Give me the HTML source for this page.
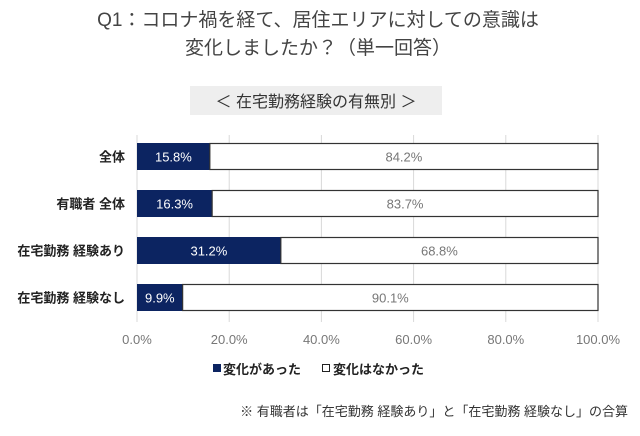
<!DOCTYPE html>
<html><head><meta charset="utf-8"><style>
body{margin:0;width:640px;height:431px;background:#fff;font-family:"Liberation Sans","Noto Sans CJK JP",sans-serif;overflow:hidden}
svg text{font-family:"Liberation Sans","Noto Sans CJK JP",sans-serif}
</style></head><body>
<svg width="640" height="431">
<text x="318" y="26" text-anchor="middle" font-size="19" fill="#444">Q1：コロナ禍を経て、居住エリアに対しての意識は</text>
<text x="318" y="54" text-anchor="middle" font-size="19" fill="#444">変化しましたか？（単一回答）</text>
<rect x="190" y="86" width="252" height="29" fill="#eeeeee"/>
<text x="316" y="107" text-anchor="middle" font-size="16" fill="#333">＜ 在宅勤務経験の有無別 ＞</text>
<g id="grid"></g><g id="bars"></g><g id="axis"></g>
<g>
<rect x="213" y="364" width="8" height="8" fill="#0c2461"/>
<text x="223" y="374" font-size="13" font-weight="bold" fill="#222">変化があった</text>
<rect x="322.5" y="364.5" width="7" height="7" fill="#fff" stroke="#222"/>
<text x="333" y="374" font-size="13" font-weight="bold" fill="#222">変化はなかった</text>
</g>
<text x="628" y="416" text-anchor="end" font-size="13" fill="#333">※ 有職者は「在宅勤務 経験あり」と「在宅勤務 経験なし」の合算</text>
</svg>
<script>
const categories=["全体","有職者 全体","在宅勤務 経験あり","在宅勤務 経験なし"];
const changed=[15.8,16.3,31.2,9.9];
const unchanged=[84.2,83.7,68.8,90.1];
const ticks=[0,20,40,60,80,100];
const NS="http://www.w3.org/2000/svg";
const x0=137,x1=598,yTop=143,step=47,bh=27;
const xs=v=>x0+(x1-x0)*v/100;
function mk(t,a,p){const e=document.createElementNS(NS,t);for(const k in a)e.setAttribute(k,a[k]);p.appendChild(e);return e;}
const g=document.getElementById('grid'),b=document.getElementById('bars'),ax=document.getElementById('axis');
ticks.forEach(t=>{
 const l=mk('line',{x1:xs(t),x2:xs(t),y1:135,y2:322,stroke:'#d9d9d9','stroke-width':1},g);
 
 
 const tx=mk('text',{x:xs(t),y:344,'text-anchor':'middle','font-size':13,fill:'#777'},ax);
 tx.textContent=t.toFixed(1)+'%';
 
 
});
categories.forEach((c,i)=>{
 const y=yTop+i*step;
 const lab=mk('text',{x:125,y:y+bh/2+5,'text-anchor':'end','font-size':13,'font-weight':'bold',fill:'#222'},ax);
 lab.textContent=c;
 
 
 const r1=mk('rect',{x:xs(0),y:y,width:xs(changed[i])-xs(0),height:bh,fill:'#0c2461'},b);
 
 
 const r2=mk('rect',{x:xs(changed[i]),y:y+0.5,width:xs(changed[i]+unchanged[i])-xs(changed[i]),height:bh-1,fill:'#fff',stroke:'#333','stroke-width':1.2},b);
 
 
 const t1=mk('text',{x:(xs(0)+xs(changed[i]))/2,y:y+bh/2+5,'text-anchor':'middle','font-size':13,fill:'#fff'},b);
 t1.textContent=changed[i].toFixed(1)+'%';
 
 
 const t2=mk('text',{x:(xs(changed[i])+xs(changed[i]+unchanged[i]))/2,y:y+bh/2+5,'text-anchor':'middle','font-size':13,fill:'#777'},b);
 t2.textContent=unchanged[i].toFixed(1)+'%';
 
 
});
</script>
</body></html>
